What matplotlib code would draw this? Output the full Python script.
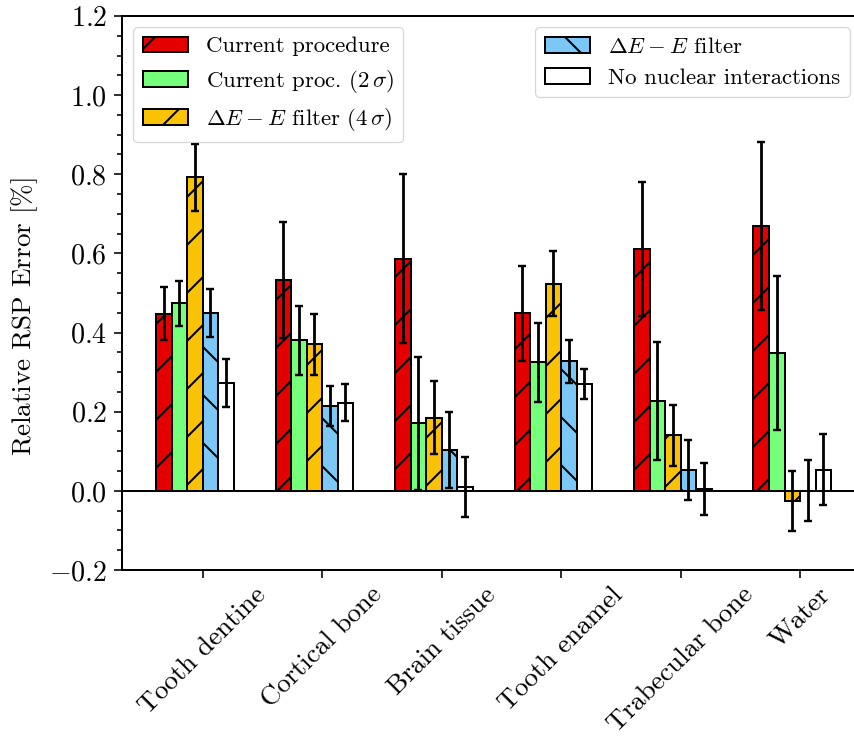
import numpy as np
import matplotlib
matplotlib.use("Agg")
import matplotlib.pyplot as plt
from matplotlib.ticker import MultipleLocator

categories = ["Tooth dentine", "Cortical bone", "Brain tissue",
              "Tooth enamel", "Trabecular bone", "Water"]
series_labels = ["Current procedure", r"Current proc. $(2\,\sigma)$",
                 r"$\Delta E - E$ filter $(4\,\sigma)$", r"$\Delta E - E$ filter",
                 "No nuclear interactions"]

current = [0.447, 0.533, 0.587, 0.449, 0.611, 0.669]
current_err = [0.067, 0.147, 0.214, 0.120, 0.170, 0.212]
current2s = [0.474, 0.381, 0.171, 0.325, 0.226, 0.348]
current2s_err = [0.057, 0.087, 0.168, 0.100, 0.149, 0.195]
dee4s = [0.792, 0.370, 0.185, 0.524, 0.140, -0.025]
dee4s_err = [0.084, 0.077, 0.093, 0.081, 0.077, 0.076]
dee = [0.449, 0.215, 0.104, 0.327, 0.053, 0.000]
dee_err = [0.060, 0.050, 0.096, 0.054, 0.076, 0.077]
nonuc = [0.273, 0.223, 0.010, 0.270, 0.005, 0.053]
nonuc_err = [0.060, 0.047, 0.076, 0.038, 0.065, 0.090]

values = [current, current2s, dee4s, dee, nonuc]
errors = [current_err, current2s_err, dee4s_err, dee_err, nonuc_err]
colors = ["#e50000", "#76ff7b", "#fac205", "#7bc8f6", "#ffffff"]
hatches = ["//", None, "//", "\\\\", None]

DPI = 288
plt.rcParams.update({
    "font.family": "serif",
    "font.serif": ["cmr10"],
    "mathtext.fontset": "cm",
    "axes.formatter.use_mathtext": True,
    "font.size": 5.7,
    "hatch.linewidth": 0.5,
    "axes.linewidth": 0.5,
})

fig = plt.figure(figsize=(854 / DPI, 740 / DPI), dpi=DPI)
ax = fig.add_axes([122 / 854, 1 - 570 / 740, (861 - 122) / 854, 554 / 740])

x = np.arange(len(categories))
w = 0.13
handles = []
for k in range(5):
    b = ax.bar(x + (k - 3) * w, values[k], width=w, align="edge",
               color=colors[k], edgecolor="black", linewidth=0.5,
               hatch=hatches[k], label=series_labels[k], zorder=2)
    ax.errorbar(x + (k - 2.5) * w, values[k], yerr=errors[k], fmt="none",
                ecolor="black", elinewidth=0.7, capsize=1.0, capthick=0.6,
                zorder=3)
    handles.append(b)

ax.axhline(0, color="black", linewidth=0.5, zorder=1)
ax.set_xlim(-0.675, 5.51)
ax.set_ylim(-0.2, 1.2)
ax.set_xticks(x)
ax.set_xticklabels(categories, rotation=45)
ax.yaxis.set_major_locator(MultipleLocator(0.2))
ax.yaxis.set_minor_locator(MultipleLocator(0.05))
ax.tick_params(axis="y", which="major", length=2.0, width=0.4, pad=1.8,
               labelsize=7)
ax.tick_params(axis="y", which="minor", length=1.2, width=0.4)
ax.tick_params(axis="x", which="major", length=2.0, width=0.4, pad=1.2,
               labelsize=6.8)
ax.set_ylabel(r"Relative RSP Error $[\%]$", fontsize=6.8)
ax.yaxis.set_label_coords(-0.111, 0.457)

leg1 = ax.legend(handles[:3], series_labels[:3], loc="upper left")
leg1.get_frame().set_linewidth(0.3)
ax.add_artist(leg1)
leg2 = ax.legend(handles[3:], series_labels[3:], loc="upper right")
leg2.get_frame().set_linewidth(0.3)

fig.savefig("out.png", dpi=DPI)
